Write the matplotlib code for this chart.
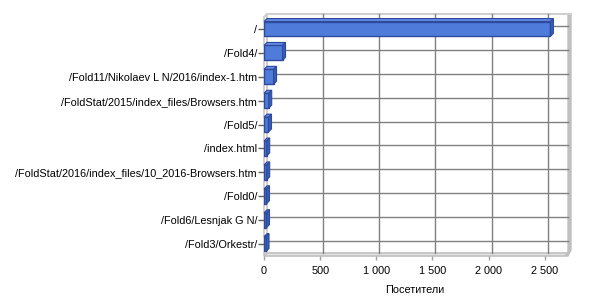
import matplotlib
matplotlib.use('Agg')
import matplotlib.pyplot as plt
from matplotlib.patches import Polygon
from matplotlib.ticker import FuncFormatter

pages = ['/', '/Fold4/', '/Fold11/Nikolaev L N/2016/index-1.htm',
         '/FoldStat/2015/index_files/Browsers.htm', '/Fold5/', '/index.html',
         '/FoldStat/2016/index_files/10_2016-Browsers.htm', '/Fold0/',
         '/Fold6/Lesnjak G N/', '/Fold3/Orkestr/']
visitors = [2550, 165, 85, 42, 40, 24, 24, 22, 22, 18]
xticks = [0, 500, 1000, 1500, 2000, 2500]

XMAX = 2680
FRONT = '#4F7BDB'
TOP = '#5F88E2'
SIDE = '#3A5CB5'
EDGE = '#2D4A9C'

plt.rcParams['font.family'] = ['Liberation Sans', 'DejaVu Sans']
plt.rcParams['font.size'] = 7.8

fig = plt.figure(figsize=(6, 3), dpi=100)
# front plane of the 3D box, in pixels: x 264..565, y 17..256 (from top)
ax = fig.add_axes([264 / 600, 44 / 300, 301 / 600, 239 / 300])
n = len(pages)
ax.set_xlim(0, XMAX)
ax.set_ylim(n - 0.5, -0.5)

# depth of the 3D effect, converted from pixels to data units
dpx = 3
dx = dpx * XMAX / 301
dy = dpx * n / 239

ybot, ytop = n - 0.5, -0.5
kw = dict(clip_on=False)

# back wall grid
for t in xticks[1:]:
    ax.plot([t + dx, t + dx], [ybot - dy, ytop - dy], color='#808080', lw=1, zorder=1, **kw)
for i in range(n):
    ax.plot([dx, XMAX + dx], [i - dy, i - dy], color='#808080', lw=1, zorder=1, **kw)

# left wall and floor
ax.add_patch(Polygon([(0, ybot), (0, ytop), (dx, ytop - dy), (dx, ybot - dy)],
                     closed=True, fc='white', ec='#c8c8c8', lw=1.2, zorder=0.5, **kw))
ax.add_patch(Polygon([(0, ybot), (XMAX, ybot), (XMAX + dx, ybot - dy), (dx, ybot - dy)],
                     closed=True, fc='#e4e4e4', ec='#c0c0c0', lw=1.2, zorder=0.5, **kw))
# right edge of back wall and top edge
ax.add_patch(Polygon([(XMAX, ybot), (XMAX + dx, ybot - dy), (XMAX + dx, ytop - dy),
                      (XMAX + 2 * dx, ytop - dy), (XMAX + 2 * dx, ybot - 2 * dy),
                      (XMAX + dx, ybot)],
                     closed=True, fc='#c0c0c0', ec='#c0c0c0', lw=1, zorder=0.6, **kw))
ax.plot([dx, XMAX + 2 * dx], [ytop - dy, ytop - dy], color='#d0d0d0', lw=1.5, zorder=0.6, **kw)
ax.plot([0, dx], [ytop, ytop - dy], color='#d0d0d0', lw=1.5, zorder=0.6, **kw)

# bars with top and side faces
h = 0.62
ax.barh(range(n), visitors, height=h, color=FRONT, edgecolor=EDGE, lw=1, zorder=3)
for i, v in enumerate(visitors):
    y0, y1 = i - h / 2, i + h / 2
    ax.add_patch(Polygon([(0, y0), (v, y0), (v + dx, y0 - dy), (dx, y0 - dy)],
                         closed=True, fc=TOP, ec=EDGE, lw=0.8, zorder=3, **kw))
    ax.add_patch(Polygon([(v, y0), (v + dx, y0 - dy), (v + dx, y1 - dy), (v, y1)],
                         closed=True, fc=SIDE, ec=EDGE, lw=0.8, zorder=3, **kw))

for s in ax.spines.values():
    s.set_visible(False)
ax.set_yticks(range(n))
ax.set_yticklabels(pages)
ax.set_xticks(xticks)
ax.xaxis.set_major_formatter(FuncFormatter(lambda v, p: '{:,}'.format(int(v)).replace(',', ' ')))
ax.tick_params(axis='y', length=4, width=1, color='#606060', pad=1)
ax.tick_params(axis='x', length=3, width=1, color='#a0a0a0', pad=4)
ax.set_xlabel('Посетители', labelpad=7)

fig.savefig('out.png', dpi=100)
